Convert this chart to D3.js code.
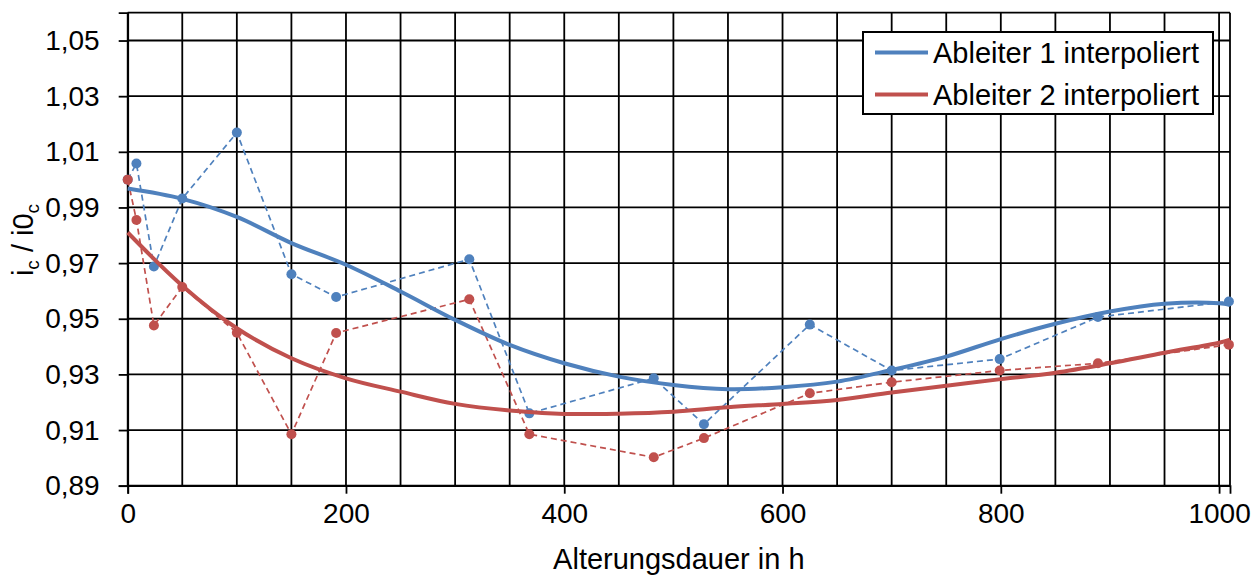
<html>
	<head>
		<meta charset="utf-8">
		<script src="https://cdn.jsdelivr.net/npm/d3@7"></script>
		<style>
			body { margin: 0; background: #fff; }
			svg text { font-family: "Liberation Sans", Arial, sans-serif; }
		</style>
	</head>
	<body>
		<div id="chart"></div>
		<script>
			// Messpunkte (Stunden)
			var hours1 = [0, 8, 24, 50, 100, 150, 191, 313, 368, 482, 528, 625, 700, 799, 889, 1009];
			var values1 = [1.0, 1.0058, 0.9688, 0.9932, 1.0169, 0.9660, 0.9578, 0.9714, 0.9160, 0.9286, 0.9121, 0.9479, 0.9314, 0.9355, 0.9506, 0.9562];
			var hours2 = [0, 8, 24, 50, 100, 150, 191, 313, 368, 482, 528, 625, 700, 799, 889, 1009];
			var values2 = [1.0, 0.9855, 0.9476, 0.9614, 0.9450, 0.9085, 0.9449, 0.9570, 0.9085, 0.9002, 0.9071, 0.9232, 0.9272, 0.9314, 0.9340, 0.9407];

			// interpolierte Kurven
			var fitHours = [0, 50, 100, 150, 200, 250, 300, 350, 400, 450, 500, 550, 600, 650, 700, 750, 800, 850, 900, 950, 1000, 1010];
			var fit1 = [0.9968, 0.9931, 0.9866, 0.9772, 0.9694, 0.9598, 0.9496, 0.9406, 0.9340, 0.9292, 0.9262, 0.9247, 0.9254, 0.9274, 0.9316, 0.9364, 0.9427, 0.9482, 0.9526, 0.9554, 0.9556, 0.9550];
			var fit2 = [0.9810, 0.9619, 0.9466, 0.9358, 0.9286, 0.9238, 0.9194, 0.9170, 0.9158, 0.9159, 0.9166, 0.9182, 0.9194, 0.9208, 0.9235, 0.9259, 0.9283, 0.9306, 0.9340, 0.9378, 0.9414, 0.9425];

			var seriesNames = ["Ableiter 1 interpoliert", "Ableiter 2 interpoliert"];
			var colors = ["#4f81bd", "#c0504d"];

			var yTicks = [0.89, 0.91, 0.93, 0.95, 0.97, 0.99, 1.01, 1.03, 1.05];
			var xTicks = [0, 200, 400, 600, 800, 1000];
			var xGrid = d3.range(0, 1001, 50);

			// Setup
			var width = 1260, height = 576;
			var margin = {left: 127.7, right: 30, top: 12.7, bottom: 90.3};
			var svg = d3.select("#chart").append("svg")
				.attr("width", width)
				.attr("height", height);

			var x = d3.scaleLinear().domain([0, 1010]).range([margin.left, width - margin.right]);
			var y = d3.scaleLinear().domain([0.89, 1.06]).range([height - margin.bottom, margin.top]);
			var de = d3.formatLocale({decimal: ",", thousands: ".", grouping: [3], currency: ["", " €"]});
			var fmt = de.format(".2f");

			// Gitter
			var grid = svg.append("g").attr("stroke", "#000").attr("stroke-width", 1.8);
			grid.selectAll(".vg").data(xGrid.concat([1010])).enter().append("line")
				.attr("x1", function(d) { return x(d); })
				.attr("x2", function(d) { return x(d); })
				.attr("y1", y(0.89)).attr("y2", y(1.06));
			grid.selectAll(".hg").data(yTicks.concat([1.06])).enter().append("line")
				.attr("x1", x(0)).attr("x2", x(1010))
				.attr("y1", function(d) { return y(d); })
				.attr("y2", function(d) { return y(d); });

			// Achsen
			var yAxis = svg.append("g")
				.attr("transform", "translate(" + x(0) + ",0)")
				.call(d3.axisLeft(y).tickValues(yTicks).tickSize(9).tickPadding(19).tickFormat(fmt));
			var xAxis = svg.append("g")
				.attr("transform", "translate(0," + y(0.89) + ")")
				.call(d3.axisBottom(x).tickValues(xTicks).tickSize(8).tickPadding(9).tickFormat(d3.format("d")));
			[yAxis, xAxis].forEach(function(a) {
				a.select(".domain").attr("stroke", "#000").attr("stroke-width", 1.8);
				a.selectAll(".tick line").attr("stroke", "#000").attr("stroke-width", 1.8);
				a.selectAll("text").attr("font-size", "28px").attr("fill", "#000")
					.attr("font-family", "Liberation Sans, Arial, sans-serif");
			});

			// Messreihen (gestrichelt) + Punkte
			var line = d3.line()
				.x(function(d) { return x(d[0]); })
				.y(function(d) { return y(d[1]); });
			var measured = [d3.zip(hours1, values1), d3.zip(hours2, values2)];
			measured.forEach(function(pts, k) {
				svg.append("path")
					.attr("d", line(pts))
					.attr("fill", "none")
					.attr("stroke", colors[k])
					.attr("stroke-width", 1.7)
					.attr("stroke-dasharray", "6,4");
				svg.selectAll(".dot" + k).data(pts).enter().append("circle")
					.attr("cx", function(d) { return x(d[0]); })
					.attr("cy", function(d) { return y(d[1]); })
					.attr("r", 5)
					.attr("fill", colors[k]);
			});

			// interpolierte Kurven
			var smooth = d3.line()
				.curve(d3.curveCatmullRom)
				.x(function(d) { return x(d[0]); })
				.y(function(d) { return y(d[1]); });
			[d3.zip(fitHours, fit1), d3.zip(fitHours, fit2)].forEach(function(pts, k) {
				svg.append("path")
					.attr("d", smooth(pts))
					.attr("fill", "none")
					.attr("stroke", colors[k])
					.attr("stroke-width", 4);
			});

			// Achsentitel
			svg.append("text")
				.attr("x", (x(0) + x(1010)) / 2)
				.attr("y", 569)
				.attr("text-anchor", "middle")
				.attr("font-size", "29px")
				.text("Alterungsdauer in h");
			var yt = svg.append("text")
				.attr("transform", "translate(33,240) rotate(-90)")
				.attr("text-anchor", "middle")
				.attr("font-size", "29px");
			yt.append("tspan").text("i");
			yt.append("tspan").attr("font-size", "19px").attr("dy", 6).text("c");
			yt.append("tspan").attr("dy", -6).text(" / i0");
			yt.append("tspan").attr("font-size", "19px").attr("dy", 6).text("c");

			// Legende
			var lg = svg.append("g").attr("transform", "translate(863,32)");
			lg.append("rect")
				.attr("width", 350).attr("height", 82)
				.attr("fill", "#fff")
				.attr("stroke", "#000")
				.attr("stroke-width", 2);
			seriesNames.forEach(function(name, k) {
				var yy = 20.5 + k * 42;
				lg.append("line")
					.attr("x1", 12).attr("x2", 65)
					.attr("y1", yy).attr("y2", yy)
					.attr("stroke", colors[k])
					.attr("stroke-width", 4);
				lg.append("text")
					.attr("x", 70)
					.attr("y", yy + 10)
					.attr("font-size", "29px")
					.text(name);
			});
		</script>
	</body>
</html>
